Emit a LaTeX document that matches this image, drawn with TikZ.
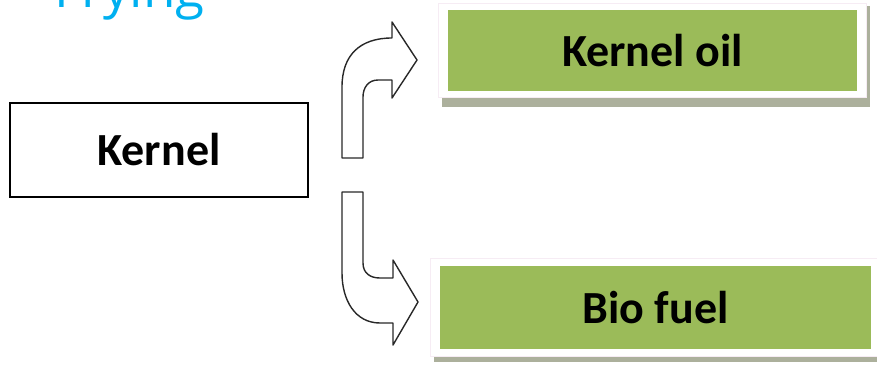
\documentclass[tikz,border=0pt]{standalone}
\usepackage{fontspec}
\setmainfont{Carlito}
\newfontfamily\titlefont{Open Sans}
\definecolor{leafgreen}{RGB}{155,187,89}
\definecolor{boxshadow}{RGB}{172,176,156}
\definecolor{framepink}{RGB}{246,236,244}
\definecolor{titlecyan}{RGB}{0,176,240}
\definecolor{arrowline}{RGB}{40,40,40}
\tikzset{
  labeltext/.style={font=\fontsize{46}{50}\selectfont\bfseries, text=black},
  sourcebox/.style={draw=black, line width=2.4pt, fill=white, labeltext, inner sep=0pt},
  greenbox/.style={fill=leafgreen, draw=none, labeltext, inner sep=0pt},
  framebox/.style={fill=white, draw=framepink, line width=1pt, inner sep=0pt},
  shadowbox/.style={fill=boxshadow, draw=none, inner sep=0pt},
  blockarrow/.style={draw=arrowline, line width=1.4pt, fill=white, line join=round},
}
\begin{document}
\begin{tikzpicture}[x=1pt, y=-1pt]
  \useasboundingbox (0,0) rectangle (877,364);
  \clip (0,0) rectangle (877,364);

  % heading, cut off at the top edge
  \node[anchor=base west, inner sep=0pt, text=titlecyan,
        font=\titlefont\fontsize{53}{58}\selectfont] (title) at (54,7) {Frying};

  % source box
  \node[sourcebox, minimum width=298pt, minimum height=94pt] (kernel) at (159,150) {Kernel};

  % upper product: shadow, white frame, green panel
  \node[shadowbox, minimum width=428pt, minimum height=101pt] (oilshadow) at (656,56.5) {};
  \node[framebox, minimum width=428pt, minimum height=94pt] (oilframe) at (652,50) {};
  \node[greenbox, minimum width=409pt, minimum height=81pt] (oil) at (652.5,50.5) {Kernel oil};

  % lower product
  \node[shadowbox, minimum width=450pt, minimum height=100pt] (fuelshadow) at (659,312) {};
  \node[framebox, minimum width=450pt, minimum height=98pt] (fuelframe) at (655,307) {};
  \node[greenbox, minimum width=431pt, minimum height=83pt] (fuel) at (655.5,307.5) {Bio fuel};

  % bent block arrow up to the oil
  \draw[blockarrow] (342,158) -- (342,87)
    .. controls (342,55) and (360,38) .. (392,38)
    -- (392,22) -- (417,60) -- (392,98) -- (392,80) -- (378,80)
    .. controls (368,80) and (363,88) .. (363,97)
    -- (363,158) -- cycle;

  % bent block arrow down to the fuel
  \draw[blockarrow] (342,192) -- (363,192) -- (363,263)
    .. controls (363,273) and (370,278) .. (380,278)
    -- (393,278) -- (393,260) -- (418,302) -- (393,345) -- (393,323) -- (380,323)
    .. controls (355,323) and (342,300) .. (342,273) -- cycle;
\end{tikzpicture}
\end{document}
